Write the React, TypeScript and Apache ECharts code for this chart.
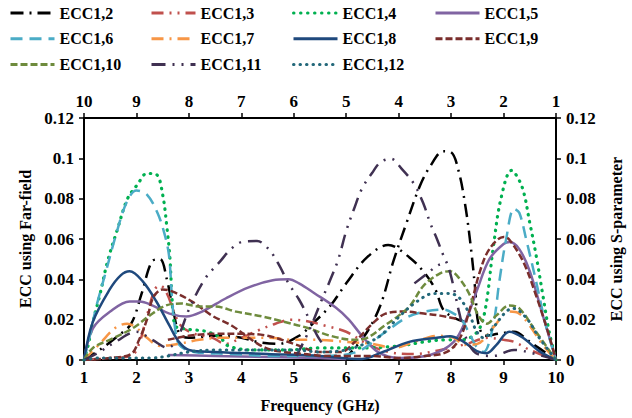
import React, { useEffect, useRef } from 'react';
import * as echarts from 'echarts';

type Pt = [number, number];

// Bottom axis: frequency (GHz); top axis: reversed port index
const freqMin = 1;
const freqMax = 10;
const eccMax = 0.12;
const eccStep = 0.02;

const seriesNames = ['ECC1,2', 'ECC1,3', 'ECC1,4', 'ECC1,5', 'ECC1,6', 'ECC1,7', 'ECC1,8', 'ECC1,9', 'ECC1,10', 'ECC1,11', 'ECC1,12'];

// ---- values (frequency, ECC) ----
const ecc12A: Pt[] = [[1,0],[1.35,0.006],[1.65,0.012],[1.9,0.018],[2.1,0.033],[2.3,0.049],[2.45,0.05],[2.58,0.04],[2.7,0.025],[2.82,0.013],[3.0,0.011],[3.5,0.012],[4.0,0.011],[4.3,0.009],[4.7,0.008],[5.1,0.012],[5.4,0.019],[5.7,0.027],[6.0,0.038],[6.4,0.051],[6.8,0.057],[7.2,0.051],[7.5,0.043],[7.7,0.035],[7.85,0.025],[8.05,0.021],[8.25,0.019]];
const ecc12B: Pt[] = [[5.95,0],[6.35,0.012],[6.65,0.027],[6.9,0.049],[7.15,0.068],[7.4,0.086],[7.6,0.096],[7.85,0.1035],[8.0,0.103],[8.15,0.093],[8.28,0.075],[8.38,0.055],[8.46,0.035],[8.52,0.018],[8.65,0.012],[8.9,0.013],[9.2,0.014],[9.5,0.009],[10,0]];
const ecc13A: Pt[] = [[1,0],[1.5,0.001],[1.9,0.002],[2.05,0.008],[2.2,0.022],[2.35,0.035],[2.45,0.037],[2.58,0.033],[2.7,0.025],[2.85,0.017],[3.1,0.013],[3.45,0.011],[3.7,0.008],[4.0,0.011],[4.35,0.015],[4.65,0.018],[4.95,0.02],[5.3,0.019],[5.6,0.017],[6.0,0.014],[6.4,0.008],[6.8,0.004],[7.3,0.003],[7.8,0.005],[8.3,0.008],[8.7,0.011],[9.0,0.01],[9.2,0.009],[9.5,0.005],[10,0]];
const ecc14A: Pt[] = [[1,0],[1.08,0.0074],[1.17,0.019],[1.3,0.032],[1.45,0.049],[1.64,0.065],[1.83,0.08],[2.02,0.087],[2.2,0.0925],[2.38,0.092],[2.5,0.082],[2.58,0.066],[2.64,0.05],[2.68,0.03],[2.74,0.017],[2.9,0.0155],[3.15,0.0148],[3.35,0.014],[3.6,0.011],[3.75,0.007],[4.2,0.005],[4.9,0.005],[5.5,0.006],[6.3,0.006],[7.0,0.007],[7.5,0.009],[7.9,0.01],[8.2,0.01],[8.5,0.014],[8.65,0.025],[8.8,0.055],[8.95,0.08],[9.15,0.094],[9.35,0.086],[9.5,0.068],[9.62,0.052],[9.75,0.032],[9.87,0.014],[10,0]];
const ecc15A: Pt[] = [[1,0],[1.17,0.0157],[1.5,0.024],[1.87,0.029],[2.06,0.029],[2.31,0.027],[2.63,0.023],[2.95,0.0216],[3.25,0.024],[3.7,0.0305],[4.14,0.036],[4.6,0.0395],[4.9,0.04],[5.1,0.038],[5.4,0.033],[5.8,0.026],[6.05,0.02],[6.3,0.012],[6.6,0.004],[7.0,0.001],[7.6,0.0025],[8.05,0.009],[8.3,0.021],[8.5,0.035],[8.73,0.05],[9.0,0.0575],[9.12,0.0585],[9.3,0.055],[9.5,0.044],[9.75,0.022],[10,0]];
const ecc15B: Pt[] = [[2.6,0.0025],[3.5,0.002],[4.5,0.0015],[5.5,0.001],[6.0,0.0005]];
const ecc16A: Pt[] = [[1,0],[1.11,0.012],[1.24,0.027],[1.43,0.045],[1.62,0.063],[1.81,0.078],[2.0,0.084],[2.2,0.082],[2.4,0.073],[2.53,0.063],[2.62,0.052],[2.68,0.03],[2.73,0.017],[2.82,0.0074],[3.1,0.004],[3.8,0.003],[4.6,0.002],[5.5,0.002],[6.2,0.004],[6.7,0.013],[7.15,0.021],[7.5,0.024],[7.85,0.025],[8.05,0.023],[8.2,0.02],[8.35,0.013],[8.5,0.006],[8.62,0.004],[8.8,0.017],[8.92,0.039],[9.05,0.06],[9.2,0.075],[9.3,0.073],[9.43,0.06],[9.62,0.039],[9.81,0.017],[10,0]];
const ecc17A: Pt[] = [[1,0],[1.3,0.008],[1.6,0.016],[1.82,0.018],[2.0,0.016],[2.2,0.011],[2.45,0.007],[2.8,0.008],[3.2,0.01],[3.6,0.011],[4.1,0.011],[4.5,0.011],[5.0,0.01],[5.4,0.01],[6.0,0.009],[6.5,0.008],[6.9,0.006],[7.3,0.009],[7.75,0.012],[8.05,0.011],[8.25,0.0075],[8.5,0.008],[8.8,0.016],[9.1,0.024],[9.3,0.023],[9.5,0.017],[9.75,0.0074],[10,0]];
const ecc18A: Pt[] = [[1,0],[1.17,0.019],[1.49,0.035],[1.7,0.042],[1.87,0.044],[2.12,0.039],[2.38,0.029],[2.63,0.017],[2.81,0.009],[3.0,0.005],[3.5,0.004],[4.5,0.003],[5.5,0.002],[6.3,0.0005],[6.7,0.004],[7.2,0.009],[7.73,0.011],[7.98,0.0118],[8.24,0.009],[8.49,0.0044],[8.68,0.0034],[8.86,0.0074],[9.11,0.014],[9.37,0.011],[9.68,0.0044],[10,0]];
const ecc19A: Pt[] = [[1,0],[1.5,0.001],[1.9,0.003],[2.05,0.01],[2.2,0.02],[2.32,0.031],[2.5,0.035],[2.68,0.034],[3.06,0.029],[3.44,0.022],[3.82,0.017],[4.14,0.011],[4.46,0.006],[4.8,0.004],[5.2,0.003],[5.6,0.002],[6.0,0.002],[6.5,0.002],[7.0,0.001],[7.5,0.002],[7.92,0.004],[8.17,0.011],[8.36,0.0256],[8.55,0.044],[8.73,0.055],[9.0,0.061],[9.1,0.06],[9.37,0.049],[9.62,0.032],[9.87,0.012],[10,0]];
const ecc19B: Pt[] = [[2.6,0.01],[3.0,0.012],[3.5,0.013],[4.0,0.013],[4.5,0.012],[5.0,0.008],[5.5,0.004],[5.9,0.004],[6.2,0.01],[6.5,0.018],[6.75,0.023],[7.1,0.024],[7.48,0.023],[7.79,0.022],[8.0,0.021],[8.2,0.02]];
const ecc110A: Pt[] = [[1,0],[1.17,0.006],[1.49,0.01],[1.81,0.014],[2.0,0.017],[2.25,0.022],[2.56,0.027],[2.85,0.028],[3.2,0.0265],[3.5,0.0265],[3.9,0.024],[4.4,0.0216],[4.8,0.019],[5.25,0.016],[5.7,0.012],[6.16,0.01],[6.4,0.011],[6.73,0.017],[7.0,0.022],[7.22,0.027],[7.48,0.037],[7.79,0.043],[7.98,0.044],[8.17,0.04],[8.36,0.032],[8.52,0.022],[8.68,0.018],[8.86,0.022],[9.11,0.027],[9.3,0.0256],[9.62,0.014],[10,0]];
const ecc111A: Pt[] = [[1,0],[1.3,0.004],[1.6,0.009],[2.0,0.014],[2.3,0.01],[2.6,0.006],[2.8,0.012],[3.0,0.025],[3.3,0.04],[3.6,0.049],[3.8,0.055],[4.05,0.0588],[4.3,0.059],[4.52,0.055],[4.7,0.048],[4.9,0.038],[5.1,0.03],[5.3,0.02],[5.45,0.012],[5.6,0.006]];
const ecc111B: Pt[] = [[5.05,0.002],[5.3,0.015],[5.52,0.029],[5.7,0.04],[5.85,0.05],[6.0,0.064],[6.15,0.075],[6.3,0.085],[6.5,0.093],[6.65,0.098],[6.85,0.0998],[7.05,0.095],[7.3,0.087],[7.48,0.077],[7.6,0.068],[7.73,0.06],[7.85,0.052],[7.95,0.046],[8.05,0.036],[8.15,0.024],[8.3,0.01],[8.5,0.003],[8.8,0.002],[9.2,0.005],[9.6,0.003],[10,0]];
const ecc111C: Pt[] = [[7.3,0.038],[7.55,0.043],[7.75,0.047],[7.9,0.048]];
const ecc112A: Pt[] = [[1,0],[1.3,0.001],[1.8,0.001],[2.3,0.001],[2.6,0.002],[3.0,0.004],[3.5,0.005],[4.0,0.005],[4.5,0.005],[5.0,0.005],[5.5,0.004],[6.0,0.005],[6.35,0.008],[6.65,0.012],[7.03,0.022],[7.35,0.029],[7.67,0.033],[7.92,0.033],[8.1,0.032],[8.24,0.028],[8.36,0.022],[8.49,0.014],[8.62,0.011],[8.8,0.016],[9.05,0.024],[9.18,0.0256],[9.43,0.021],[9.68,0.011],[10,0]];

const seriesParts: Pt[][][] = [
  [ecc12A, ecc12B],
  [ecc13A],
  [ecc14A],
  [ecc15A, ecc15B],
  [ecc16A],
  [ecc17A],
  [ecc18A],
  [ecc19A, ecc19B],
  [ecc110A],
  [ecc111A, ecc111B, ecc111C],
  [ecc112A],
];

// ---- styles ----
const lineStyles: { color: string; type: any; width: number; cap?: string }[] = [
  { color: '#000000', type: [13, 6, 2, 6], width: 2.5 },
  { color: '#C0504D', type: [12, 6, 2, 6, 2, 6], width: 2.5 },
  { color: '#00B050', type: [0.5, 6.5], width: 3.2, cap: 'round' },
  { color: '#8064A2', type: 'solid', width: 2.5 },
  { color: '#4BACC6', type: [12, 7], width: 2.5 },
  { color: '#F79646', type: [12, 6, 2, 6], width: 2.5 },
  { color: '#1F497D', type: 'solid', width: 2.5 },
  { color: '#7A2E2C', type: [7, 3], width: 2.5 },
  { color: '#6E8B3D', type: [7, 3], width: 2.5 },
  { color: '#403152', type: [14, 7, 2, 7, 2, 7], width: 2.5 },
  { color: '#23687A', type: [0.5, 6], width: 3, cap: 'round' },
];

const FONT = 'Liberation Serif';

function buildOption() {
  const series: any[] = [];
  seriesParts.forEach((parts, i) => {
    const st = lineStyles[i];
    parts.forEach((data, j) => {
      series.push({
        type: 'line',
        name: seriesNames[i],
        xAxisIndex: 0,
        yAxisIndex: j === 0 ? 0 : 1,
        data,
        smooth: 0.35,
        symbol: 'none',
        showSymbol: false,
        color: st.color,
        lineStyle: { color: st.color, type: st.type, width: st.width, cap: st.cap || 'butt' },
        emphasis: { disabled: true },
        z: 2,
      });
    });
  });

  const cols = [
    ['ECC1,2', 'ECC1,6', 'ECC1,10'],
    ['ECC1,3', 'ECC1,7', 'ECC1,11'],
    ['ECC1,4', 'ECC1,8', 'ECC1,12'],
    ['ECC1,5', 'ECC1,9'],
  ];
  const colLeft = [9, 150, 292, 434];
  const legend = cols.map((data, k) => ({
    orient: 'vertical',
    left: colLeft[k],
    top: 5,
    itemWidth: 44,
    itemHeight: 12,
    itemGap: 9.8,
    padding: 0,
    data,
    selectedMode: false,
    itemStyle: { opacity: 0 },
    lineStyle: { width: 3 },
    textStyle: { fontFamily: FONT, fontWeight: 'bold', fontSize: 16, color: '#000' },
  }));

  const tickFont = { fontFamily: FONT, fontWeight: 'bold', fontSize: 17, color: '#000' };
  const nameFont = { fontFamily: FONT, fontWeight: 'bold', fontSize: 16, color: '#000' };
  const axisLine = { show: true, onZero: false, lineStyle: { color: '#000', width: 2 } };
  const axisTick = { show: true, inside: false, length: 5, lineStyle: { color: '#000', width: 1.5 } };

  return {
    animation: false,
    backgroundColor: '#fff',
    legend,
    grid: { left: 84, right: 72, top: 118, bottom: 56, containLabel: false },
    xAxis: [
      {
        type: 'value', position: 'bottom', min: freqMin, max: freqMax, interval: 1,
        name: 'Frequency (GHz)', nameLocation: 'middle', nameGap: 37,
        nameTextStyle: { ...nameFont },
        axisLine, axisTick, splitLine: { show: false },
        axisLabel: { ...tickFont, margin: 9 },
      },
      {
        type: 'value', position: 'top', min: freqMin, max: freqMax, interval: 1, inverse: true,
        axisLine, axisTick, splitLine: { show: false },
        axisLabel: { ...tickFont, margin: 8 },
      },
    ],
    yAxis: [
      {
        type: 'value', position: 'left', min: 0, max: eccMax, interval: eccStep,
        name: 'ECC using Far-field', nameLocation: 'middle', nameGap: 38, nameRotate: 90,
        nameTextStyle: { ...nameFont },
        axisLine, axisTick, splitLine: { show: false },
        axisLabel: { ...tickFont, margin: 10 },
      },
      {
        type: 'value', position: 'right', min: 0, max: eccMax, interval: eccStep,
        name: 'ECC using S-parameter', nameLocation: 'middle', nameGap: 52, nameRotate: 90,
        nameTextStyle: { ...nameFont },
        axisLine, axisTick, splitLine: { show: false },
        axisLabel: { ...tickFont, margin: 10 },
      },
    ],
    series,
  };
}

export default function App() {
  const ref = useRef<HTMLDivElement>(null);
  useEffect(() => {
    document.body.style.margin = '0';
    const chart = echarts.init(ref.current!, undefined, { renderer: 'svg' });
    chart.setOption(buildOption() as any);
    return () => chart.dispose();
  }, []);
  return <div ref={ref} style={{ width: 632, height: 418 }} />;
}
